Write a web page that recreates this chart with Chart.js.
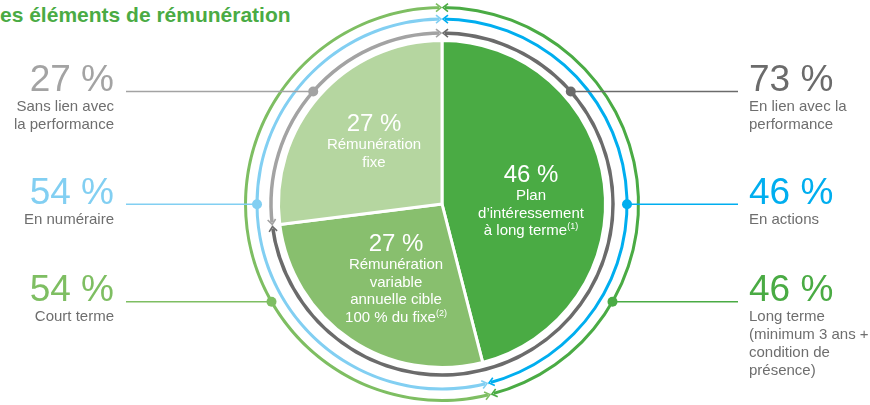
<!DOCTYPE html>
<html lang="fr">
<head>
<meta charset="utf-8">
<title>Les éléments de rémunération</title>
<script src="https://cdn.jsdelivr.net/npm/chart.js@4.4.1/dist/chart.umd.min.js"></script>
<style>
  html, body { margin: 0; padding: 0; background: #fff; }
  body {
    width: 870px; height: 405px; position: relative; overflow: hidden;
    font-family: "Liberation Sans", Arial, Helvetica, sans-serif;
  }
  #pay { position: absolute; left: 0; top: 0; }
  .title {
    position: absolute; left: 0; top: 4px; white-space: nowrap;
    font-size: 21px; line-height: 21px; font-weight: bold; color: #4aab44;
  }
  .side { position: absolute; width: 160px; white-space: nowrap; }
  .side.left { left: -46px; text-align: right; }
  .side.right { left: 749px; text-align: left; }
  .side .num { font-size: 37px; line-height: 37px; }
  .side .sub { font-size: 15px; line-height: 18px; color: #6e6e6e; }
  .inner { position: absolute; width: 180px; text-align: center; color: #fff; white-space: nowrap; }
  .inner .num { font-size: 24px; line-height: 24px; }
  .inner .sub { font-size: 15px; line-height: 17.5px; }
  sup { font-size: 9px; line-height: 0; vertical-align: baseline; position: relative; top: -6px; }
</style>
</head>
<body>
<div class="title">es éléments de rémunération</div>
<canvas id="pay" width="870" height="405"></canvas>

<script>
/* ---------- data ---------- */

// pie slices, clockwise from 12 o'clock
const slices = [46, 27, 27];
const sliceLines = [
  ["Plan", "d’intéressement", "à long terme"],
  ["Rémunération", "variable", "annuelle cible", "100 % du fixe"],
  ["Rémunération", "fixe"]
];
const sliceNotes = ["(1)", "(2)", ""];

// outer rings: [right arc, left arc]
const perfSplit = [73, 27];
const perfLines = [["En lien avec la", "performance"], ["Sans lien avec", "la performance"]];

const payForm = [46, 54];
const payLines = [["En actions"], ["En numéraire"]];

const horizon = [46, 54];
const horizonLines = [["Long terme", "(minimum 3 ans +", "condition de", "présence)"], ["Court terme"]];

/* ---------- styles ---------- */

const sliceColors = ["#4aab44", "#88bf6e", "#b5d6a0"];
const grayRing = ["#6b6b6b", "#a3a3a3"];
const blueRing = ["#00aeef", "#82cff2"];
const greenRing = ["#4aab44", "#7ebe62"];

// number baselines for the side labels (also the leader line heights)
const rows = [
  { ds: 4, values: perfSplit, lines: perfLines, colors: grayRing, y: 91.5 },
  { ds: 2, values: payForm, lines: payLines, colors: blueRing, y: 204.3 },
  { ds: 0, values: horizon, lines: horizonLines, colors: greenRing, y: 301.7 }
];

// centre x and top of each label block inside the pie
const sliceLabelPos = [[531, 162.4], [396, 231.4], [374, 111.4]];

const pct = v => v + "\u00a0%";

/* ---------- html labels ---------- */

function addBlock(cls, left, top, numText, numColor, lines, note) {
  const div = document.createElement("div");
  div.className = cls;
  if (left !== null) div.style.left = left + "px";
  div.style.top = top + "px";
  const num = document.createElement("div");
  num.className = "num";
  num.textContent = numText;
  if (numColor) num.style.color = numColor;
  div.appendChild(num);
  lines.forEach((t, i) => {
    const s = document.createElement("div");
    s.className = "sub";
    s.textContent = t;
    if (note && i === lines.length - 1) {
      const sup = document.createElement("sup");
      sup.textContent = note;
      s.appendChild(sup);
    }
    div.appendChild(s);
  });
  document.body.appendChild(div);
}

rows.forEach(r => {
  addBlock("side right", null, r.y - 31.3, pct(r.values[0]), r.colors[0], r.lines[0]);
  addBlock("side left", null, r.y - 31.3, pct(r.values[1]), r.colors[1], r.lines[1]);
});

slices.forEach((v, i) => {
  const [cx, top] = sliceLabelPos[i];
  addBlock("inner", cx - 90, top, pct(v), null, sliceLines[i], sliceNotes[i]);
});

/* ---------- ring arrows + leader lines ---------- */

function chevron(ctx, cx, cy, r, ang, dir, color) {
  const px = cx + r * Math.cos(ang), py = cy + r * Math.sin(ang);
  const tx = -Math.sin(ang) * dir, ty = Math.cos(ang) * dir;
  const nx = Math.cos(ang), ny = Math.sin(ang);
  const back = 5, half = 4;
  ctx.beginPath();
  ctx.moveTo(px - tx * back + nx * half, py - ty * back + ny * half);
  ctx.lineTo(px, py);
  ctx.lineTo(px - tx * back - nx * half, py - ty * back - ny * half);
  ctx.strokeStyle = color;
  ctx.lineWidth = 1.6;
  ctx.stroke();
}

const ringDecor = {
  id: "ringDecor",
  afterDatasetsDraw(chart) {
    const ctx = chart.ctx;
    ctx.save();
    ctx.lineCap = "butt";

    rows.forEach(row => {
      const arcs = chart.getDatasetMeta(row.ds).data;
      const props = arcs.map(a => a.getProps(["x", "y", "startAngle", "endAngle", "innerRadius", "outerRadius"], true));

      // open a small gap at every arc end, then put an arrow head there
      props.forEach(p => {
        const r = (p.innerRadius + p.outerRadius) / 2;
        const g = 3 / r;
        ctx.strokeStyle = "#fff";
        ctx.lineWidth = p.outerRadius - p.innerRadius + 2;
        ctx.beginPath(); ctx.arc(p.x, p.y, r, p.startAngle, p.startAngle + g); ctx.stroke();
        ctx.beginPath(); ctx.arc(p.x, p.y, r, p.endAngle - g, p.endAngle); ctx.stroke();
      });
      props.forEach((p, i) => {
        const r = (p.innerRadius + p.outerRadius) / 2;
        const t = 1 / r;
        chevron(ctx, p.x, p.y, r, p.startAngle + t, -1, row.colors[i]);
        chevron(ctx, p.x, p.y, r, p.endAngle - t, 1, row.colors[i]);
      });

      // leader lines from the labels to a dot on the ring
      props.forEach((p, i) => {
        const r = (p.innerRadius + p.outerRadius) / 2;
        const dy = row.y - p.y;
        const dx = Math.sqrt(Math.max(r * r - dy * dy, 0));
        const dotX = i === 0 ? p.x + dx : p.x - dx;
        const endX = i === 0 ? 738 : 126;
        ctx.strokeStyle = row.colors[i];
        ctx.lineWidth = 1.6;
        ctx.beginPath();
        ctx.moveTo(endX, row.y);
        ctx.lineTo(dotX, row.y);
        ctx.stroke();
        ctx.fillStyle = row.colors[i];
        ctx.beginPath();
        ctx.arc(dotX, row.y, 5, 0, Math.PI * 2);
        ctx.fill();
      });
    });
    ctx.restore();
  }
};

/* ---------- chart ---------- */

const spacer = w => ({ data: [1], weight: w, backgroundColor: "rgba(0,0,0,0)", borderWidth: 0 });
const ring = (values, colors, w) => ({ data: values, weight: w, backgroundColor: colors, borderWidth: 0 });

new Chart(document.getElementById("pay"), {
  type: "doughnut",
  data: {
    datasets: [
      ring(horizon, greenRing, 3),
      spacer(8.5),
      ring(payForm, blueRing, 3),
      spacer(10.75),
      ring(perfSplit, grayRing, 3.5),
      spacer(5.75),
      { data: slices, weight: 163.5, backgroundColor: sliceColors, borderColor: "#fff", borderWidth: 3 }
    ]
  },
  options: {
    responsive: false,
    animation: false,
    events: [],
    cutout: 0,
    radius: 198,
    layout: { padding: { left: 14, top: 3, right: 0, bottom: 0 } },
    plugins: { legend: { display: false }, tooltip: { enabled: false } }
  },
  plugins: [ringDecor]
});
</script>
</body>
</html>
